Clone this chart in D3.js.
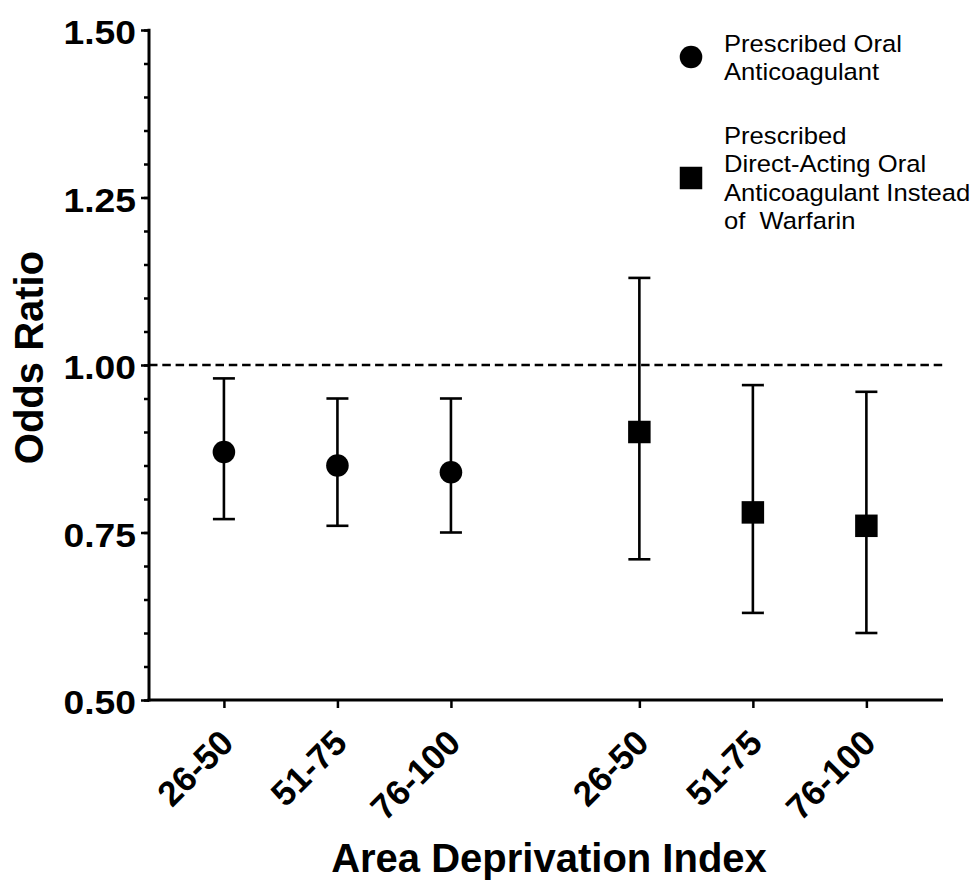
<!DOCTYPE html>
<html><head><meta charset="utf-8">
<script src="https://cdn.jsdelivr.net/npm/d3@7"></script>
<style>
html,body{margin:0;padding:0;background:#fff;}
svg{display:block;font-family:"Liberation Sans",Arial,Helvetica,sans-serif;}
</style></head>
<body>
<svg id="chart" width="978" height="882"></svg>
<script>
// ---- data ----
const categories = ["26-50","51-75","76-100"];
const seriesNames = ["Prescribed Oral Anticoagulant","Prescribed Direct-Acting Oral Anticoagulant Instead of Warfarin"];
const oacOR    = [0.87, 0.85, 0.84];
const oacLow   = [0.77, 0.76, 0.75];
const oacHigh  = [0.98, 0.95, 0.95];
const doacOR   = [0.90, 0.78, 0.76];
const doacLow  = [0.71, 0.63, 0.60];
const doacHigh = [1.13, 0.97, 0.96];
const yTicks = [0.50, 0.75, 1.00, 1.25, 1.50];
const legendLines = [["Prescribed Oral","Anticoagulant"],["Prescribed","Direct-Acting Oral","Anticoagulant Instead","of  Warfarin"]];

// ---- layout ----
const svg = d3.select("#chart");
const FONT = "'Liberation Sans',Arial,sans-serif";
const GAP = 0.66;
const pos = (g,i) => g*(categories.length+GAP) + i;
const x = d3.scaleLinear().domain([-0.66, 6.335]).range([149, 943]);
const y = d3.scaleLinear().domain([0.5, 1.5]).range([700, 30]);

const points = [];
[[oacOR,oacLow,oacHigh],[doacOR,doacLow,doacHigh]].forEach((s,g)=>{
  categories.forEach((c,i)=>points.push({g, cat:c, px:pos(g,i), v:s[0][i], lo:s[1][i], hi:s[2][i]}));
});

// reference line
svg.append("line").attr("x1",x.range()[0]).attr("x2",x.range()[1])
  .attr("y1",y(1)).attr("y2",y(1))
  .attr("stroke","#000").attr("stroke-width",2.6).attr("stroke-dasharray","8.5,4.8");

// y axis minor ticks
const yAxisG = svg.append("g").attr("transform",`translate(${x.range()[0]},0)`);
yAxisG.call(d3.axisLeft(y).tickValues(d3.range(0.5,1.5001,0.05)).tickSize(5).tickFormat(""))
  .call(g=>g.select(".domain").remove())
  .selectAll("line").attr("stroke","#000").attr("stroke-width",2.5);
// y axis major ticks
const yMajor = svg.append("g").attr("transform",`translate(${x.range()[0]},0)`);
yMajor.call(d3.axisLeft(y).tickValues(yTicks).tickSize(8).tickFormat(d3.format(".2f")));
yMajor.select(".domain").remove();
yMajor.selectAll("line").attr("stroke","#000").attr("stroke-width",2.5);
yMajor.selectAll("text").attr("font-size",33).attr("font-weight","bold").attr("fill","#000")
  .attr("font-family",FONT).attr("x",0).attr("dy","0.42em")
  .attr("transform","translate(-13,0) scale(1.13,1)");
svg.append("line").attr("x1",149).attr("x2",149).attr("y1",y(1.5)-1.25).attr("y2",y(0.5)+1.5)
  .attr("stroke","#000").attr("stroke-width",3);

// x axis
const xAxisG = svg.append("g").attr("transform",`translate(0,${y(0.5)})`);
xAxisG.call(d3.axisBottom(x).tickValues(points.map(p=>p.px)).tickSize(8).tickFormat((d,i)=>points[i].cat));
xAxisG.select(".domain").remove();
xAxisG.selectAll("line").attr("stroke","#000").attr("stroke-width",2.5);
xAxisG.selectAll("text").attr("font-size",35).attr("font-weight","bold").attr("fill","#000")
  .attr("font-family",FONT)
  .attr("text-anchor","end").attr("dy",0).attr("y",0)
  .attr("transform","translate(11,45) rotate(-45)");
svg.append("line").attr("x1",149-1.5).attr("x2",943).attr("y1",700).attr("y2",700)
  .attr("stroke","#000").attr("stroke-width",3);

// error bars
const eb = svg.append("g").selectAll("g").data(points).join("g");
eb.append("line").attr("x1",d=>x(d.px)).attr("x2",d=>x(d.px)).attr("y1",d=>y(d.lo)).attr("y2",d=>y(d.hi))
  .attr("stroke","#000").attr("stroke-width",2.6);
eb.append("line").attr("x1",d=>x(d.px)-11).attr("x2",d=>x(d.px)+11).attr("y1",d=>y(d.lo)).attr("y2",d=>y(d.lo))
  .attr("stroke","#000").attr("stroke-width",2.6);
eb.append("line").attr("x1",d=>x(d.px)-11).attr("x2",d=>x(d.px)+11).attr("y1",d=>y(d.hi)).attr("y2",d=>y(d.hi))
  .attr("stroke","#000").attr("stroke-width",2.6);
const sym = [d3.symbol().type(d3.symbolCircle).size(Math.PI*11.3*11.3), d3.symbol().type(d3.symbolSquare).size(22.5*22.5)];
eb.append("path").attr("transform",d=>`translate(${x(d.px)},${y(d.v)})`).attr("d",d=>sym[d.g]()).attr("fill","#000");

// axis titles
svg.append("text").attr("transform",`translate(43,357.5) rotate(-90)`).attr("text-anchor","middle")
  .attr("font-size",40).attr("font-weight","bold").attr("font-family",FONT).text("Odds Ratio");
svg.append("text").attr("x",549).attr("y",872).attr("text-anchor","middle")
  .attr("font-size",40).attr("font-weight","bold").attr("font-family",FONT).text("Area Deprivation Index");

// legend
const leg = svg.append("g");
const legY = [57, 178];
const legTextTop = [52, 144];
legendLines.forEach((lines,g)=>{
  leg.append("path").attr("transform",`translate(691,${legY[g]})`).attr("d",sym[g]()).attr("fill","#000");
  const t = leg.append("text").attr("transform",`translate(724,${legTextTop[g]}) scale(1.09,1)`)
    .attr("font-size",23.5).attr("font-family",FONT)
    .attr("style","white-space:pre").attr("fill","#000");
  lines.forEach((l,j)=>t.append("tspan").attr("x",0).attr("y", j*28.5).text(l));
});
</script>
</body></html>
